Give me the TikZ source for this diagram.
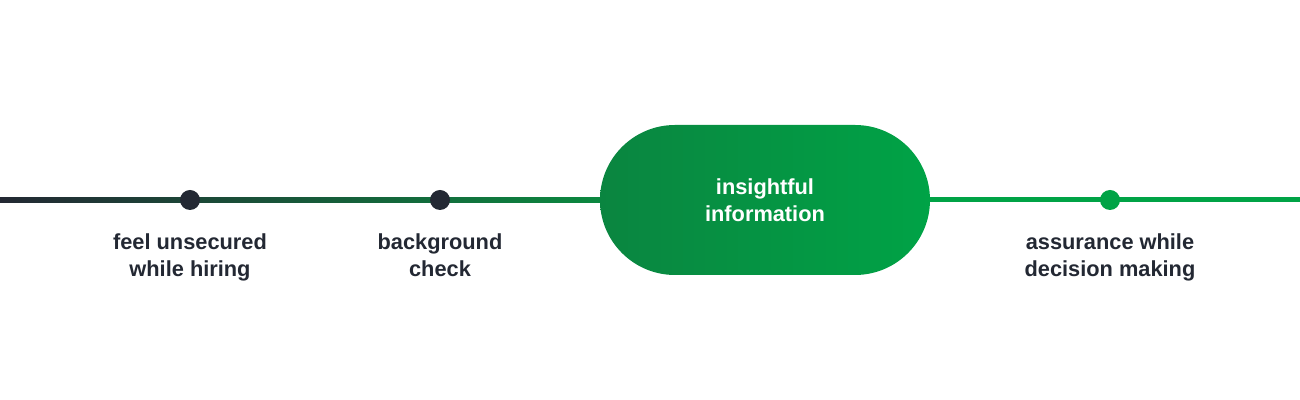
\documentclass[tikz,border=0pt]{standalone}
\usepackage{fontspec}
\setmainfont{Liberation Sans}
\usetikzlibrary{positioning,backgrounds,calc}
\definecolor{oscuro}{HTML}{232833}
\definecolor{verde}{HTML}{00A346}
\definecolor{verdeosc}{HTML}{0A8540}
\definecolor{verdemed}{HTML}{0B8A40}
\begin{document}
\begin{tikzpicture}[font=\bfseries,
      hito/.style={circle, inner sep=0pt, minimum size=0.4cm},
      lbl/.style={align=center, text=oscuro, font=\bfseries\fontsize{12.4}{15.5}\selectfont},
      pill/.style={rounded corners=1.5cm, minimum width=6.6cm, minimum height=3cm,
                   align=center, text=white, left color=verdeosc, right color=verde,
                   font=\bfseries\fontsize{12.4}{15.5}\selectfont}]

    \useasboundingbox (0,0) rectangle (26,8);
    \coordinate (ini) at (0,4);
    \coordinate (fin) at (26,4);

    % --- Nodo central --------------------------------------------------
    \node[pill] (info) at (15.3,4) {insightful\\information};

    % --- Hitos sobre la linea -----------------------------------------
    \node[hito, fill=oscuro] (h1) at (3.8,4) {};
    \node[hito, fill=oscuro] (h2) at (8.8,4) {};
    \node[hito, fill=verde]  (h3) at (22.2,4) {};

    \node[lbl, below=0.34cm of h1] (t1) {feel unsecured\\while hiring};
    \node[lbl, below=0.34cm of h2] (t2) {background\\check};
    \node[lbl, below=0.34cm of h3] (t3) {assurance while\\decision making};

    % --- Linea de tiempo ------------------------------------------------
    \begin{scope}[on background layer]
      \shade[left color=oscuro, right color=verdemed]
        ($(ini)+(0,0.05)$) rectangle ($(info.west)+(0.2,-0.05)$);
      \draw[verde, line width=0.1cm] (info.east) -- (fin);
    \end{scope}
  \end{tikzpicture}
\end{document}
